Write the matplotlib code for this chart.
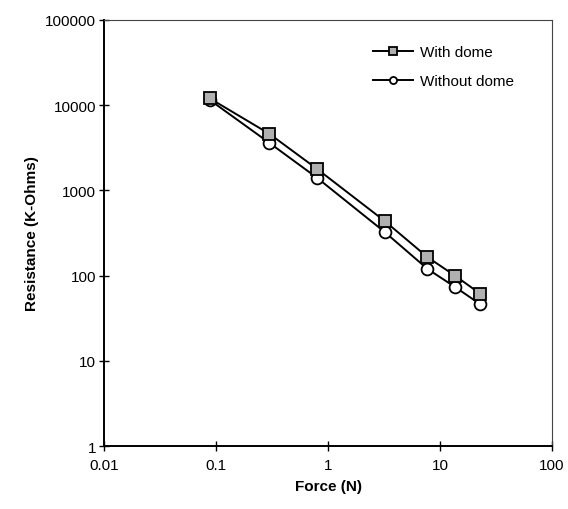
import numpy as np
import matplotlib
matplotlib.use("Agg")
import matplotlib.pyplot as plt

plt.rcParams['font.family'] = ['Liberation Sans', 'DejaVu Sans']

# data
force = [0.088, 0.30, 0.80, 3.2, 7.7, 13.7, 22.9]
with_dome = [12000, 4600, 1780, 437, 165, 99, 61]
without_dome = [11500, 3600, 1400, 325, 120, 73, 46]

xticks = [0.01, 0.1, 1, 10, 100]
xticklabels = ['0.01', '0.1', '1', '10', '100']
yticks = [1, 10, 100, 1000, 10000, 100000]
yticklabels = ['1', '10', '100', '1000', '10000', '100000']

fig = plt.figure(figsize=(5.68, 5.10), dpi=100)
ax = fig.add_axes([0.183, 0.1235, 0.789, 0.8355])

ax.plot(force, with_dome, color='black', lw=1.4, marker='s', ms=8.5,
        mfc='#b0b0b0', mec='black', mew=1.3, label='With dome', zorder=3)
ax.plot(force, without_dome, color='black', lw=1.4, marker='o', ms=8.5,
        mfc='white', mec='black', mew=1.3, label='Without dome', zorder=2)

ax.set_xscale('log')
ax.set_yscale('log')
ax.set_xlim(0.01, 100)
ax.set_ylim(1, 100000)
ax.set_xticks(xticks)
ax.set_xticklabels(xticklabels)
ax.set_yticks(yticks)
ax.set_yticklabels(yticklabels)
ax.minorticks_off()
ax.tick_params(direction='inout', length=7, width=1, labelsize=11)
ax.tick_params(axis='x', pad=5)
ax.tick_params(axis='y', pad=2)

for s in ['left', 'bottom']:
    ax.spines[s].set_linewidth(1.4)
for s in ['top', 'right']:
    ax.spines[s].set_linewidth(0.8)
    ax.spines[s].set_color('#444444')

ax.set_xlabel('Force (N)', fontsize=11, fontweight='bold', labelpad=5)
ax.set_ylabel('Resistance (K-Ohms)', fontsize=11, fontweight='bold', labelpad=4.5)

ax.legend(loc='upper left', bbox_to_anchor=(0.587, 0.955), frameon=False,
          fontsize=11, handlelength=2.6, handletextpad=0.45, labelspacing=1.0,
          markerscale=0.6, borderaxespad=0)

fig.savefig('out.png', dpi=100)
